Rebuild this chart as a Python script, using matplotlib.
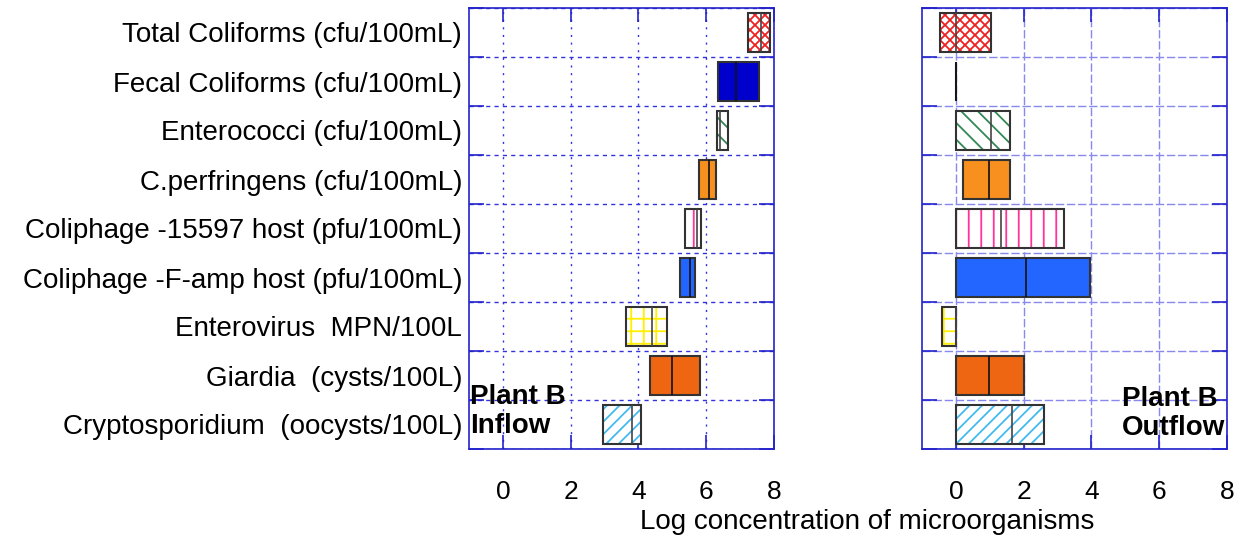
import matplotlib
matplotlib.use("Agg")
import matplotlib.pyplot as plt
from matplotlib.backend_bases import GraphicsContextBase
import numpy as np

plt.rcParams['font.family'] = ['Liberation Sans', 'DejaVu Sans']
plt.rcParams['hatch.linewidth'] = 1.3

# finer hatch density control (lines per inch per hatch character)
_orig_hatch_path = GraphicsContextBase.get_hatch_path


def _hatch_path(self, density=4.0):
    return _orig_hatch_path(self, density)


GraphicsContextBase.get_hatch_path = _hatch_path

categories = [
    "Total Coliforms (cfu/100mL)",
    "Fecal Coliforms (cfu/100mL)",
    "Enterococci (cfu/100mL)",
    "C.perfringens (cfu/100mL)",
    "Coliphage -15597 host (pfu/100mL)",
    "Coliphage -F-amp host (pfu/100mL)",
    "Enterovirus  MPN/100L",
    "Giardia  (cysts/100L)",
    "Cryptosporidium  (oocysts/100L)",
]

# Inflow: low, median, high (log units)
inflow_low = [7.24, 6.36, 6.33, 5.80, 5.36, 5.24, 3.64, 4.34, 2.95]
inflow_med = [7.62, 6.87, 6.40, 6.09, 5.72, 5.51, 4.41, 4.99, 3.81]
inflow_high = [7.87, 7.56, 6.63, 6.28, 5.85, 5.66, 4.84, 5.83, 4.08]

# Outflow: low, median, high (log units)
outflow_low = [-0.47, 0.0, 0.0, 0.22, 0.0, 0.0, -0.41, 0.0, 0.0]
outflow_med = [0.0, 0.0, 1.05, 0.98, 1.32, 2.07, 0.0, 0.98, 1.67]
outflow_high = [1.05, 0.0, 1.60, 1.60, 3.20, 3.97, 0.0, 2.02, 2.59]

xticks = [0, 2, 4, 6, 8]

# style per category: (facecolor, hatch, hatchcolor)
styles = [
    ("white", "xxxxx", "#EE2222"),
    ("#0000CC", None, None),
    ("white", "\\\\\\", "#338855"),
    ("#F7901E", None, None),
    ("white", "||", "#FF3399"),
    ("#2266FF", None, None),
    ("white", "++", "#FFEE00"),
    ("#EE6611", None, None),
    ("white", "////", "#44BBEE"),
]

W, H = 1243, 540
fig = plt.figure(figsize=(W / 100, H / 100), dpi=100)
ax1 = fig.add_axes([469 / W, 1 - 449 / H, 305 / W, 441 / H])
ax2 = fig.add_axes([922 / W, 1 - 449 / H, 305 / W, 441 / H])

ypos = np.arange(len(categories))
blue = "#2222CC"


def draw(ax, low, med, high, light):
    for i, (lo, md, hi) in enumerate(zip(low, med, high)):
        fc, hatch, hc = styles[i]
        w = hi - lo
        if hatch:
            ax.barh(ypos[i], w, left=lo, height=0.8, color="white",
                    edgecolor=hc, hatch=hatch, linewidth=0, zorder=3)
            mc = "#444444"
        else:
            ax.barh(ypos[i], w, left=lo, height=0.8, color=fc,
                    linewidth=0, zorder=3)
            mc = "#111111"
        ax.barh(ypos[i], w, left=lo, height=0.8, fill=False,
                edgecolor="#333333", linewidth=1.5, zorder=4)
        ax.vlines(md, ypos[i] - 0.4, ypos[i] + 0.4, color=mc,
                  linewidth=1.2, zorder=5)
    ax.set_xlim(-1, 8)
    ax.set_ylim(len(categories) - 0.5, -0.5)
    ax.set_xticks(xticks)
    ax.set_xticklabels([str(t) for t in xticks], fontsize=19)
    ax.tick_params(axis='x', direction='in', length=10, width=1.2,
                   color=blue, top=True, bottom=True, pad=22)
    ax.set_yticks(ypos)
    ax.set_yticks(np.arange(len(categories) + 1) - 0.5, minor=True)
    ax.tick_params(axis='y', which='major', length=0, pad=5)
    ax.tick_params(axis='y', which='minor', direction='in', length=11,
                   width=1.2, color=blue, left=True, right=True)
    for s in ax.spines.values():
        s.set_color(blue)
        s.set_linewidth(1.2)
    if light:
        gc = "#8888EE"
        ax.grid(True, axis='x', which='major', color=gc, linestyle=(0, (6, 2)),
                linewidth=1.0, zorder=0)
        ax.grid(True, axis='y', which='minor', color=gc, linestyle=(0, (6, 2)),
                linewidth=1.0, zorder=0)
    else:
        gc = "#3333DD"
        ax.grid(True, axis='x', which='major', color=gc, linestyle=(0, (1.5, 4)),
                linewidth=1.0, zorder=0)
        ax.grid(True, axis='y', which='minor', color=gc, linestyle=(0, (3, 3)),
                linewidth=1.0, zorder=0)
    ax.grid(False, axis='y', which='major')


draw(ax1, inflow_low, inflow_med, inflow_high, light=False)
draw(ax2, outflow_low, outflow_med, outflow_high, light=True)

ax1.set_yticklabels(categories, fontsize=20)
ax2.set_yticklabels([])

ax1.text(0.004, 0.022, "Plant B\nInflow", transform=ax1.transAxes,
         ha='left', va='bottom', fontsize=20, fontweight='bold',
         linespacing=1.15, zorder=6)
ax2.text(0.995, 0.018, "Plant B\nOutflow", transform=ax2.transAxes,
         ha='right', va='bottom', multialignment='left', fontsize=20,
         fontweight='bold', linespacing=1.15, zorder=6)

fig.text(867 / W, 1 - 522 / H, "Log concentration of microorganisms",
         ha='center', va='center', fontsize=20)

fig.savefig("out.png", dpi=100)
